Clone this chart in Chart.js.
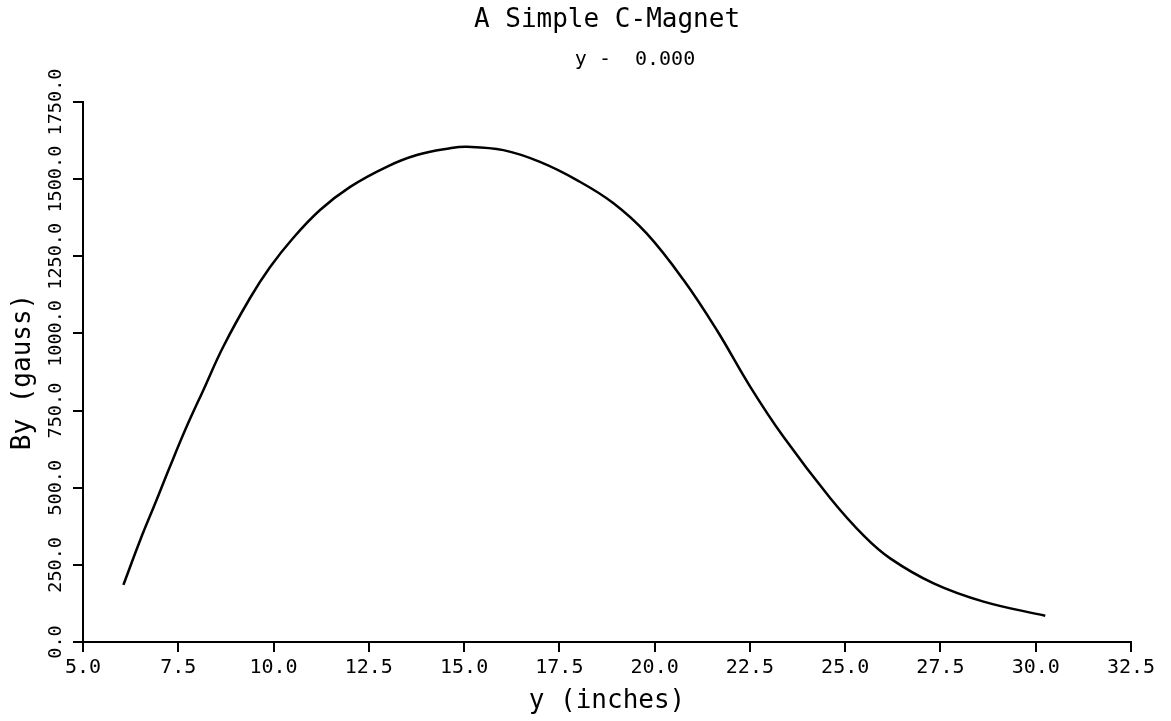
<!DOCTYPE html>
<html>
<head>
<meta charset="utf-8">
<title>A Simple C-Magnet</title>
<script src="https://cdn.jsdelivr.net/npm/chart.js@4/dist/chart.umd.min.js"></script>
<style>
  html, body { margin: 0; padding: 0; background: #fff; }
  #wrap { width: 1171px; height: 721px; position: relative; }
</style>
</head>
<body>
<div id="wrap"><canvas id="magChart"></canvas></div>
<script>
// values (y position in inches vs By in gauss)
const xInches = [6.06, 6.50, 6.93, 7.28, 7.72, 8.16, 8.68, 9.38, 9.91,
  10.52, 11.22, 12.01, 12.97, 13.76, 14.63, 15.07, 16.03, 16.99, 17.96,
  18.92, 19.79, 20.76, 21.63, 22.51, 23.38, 24.61, 25.50, 26.18,
  27.32, 28.63, 30.25];
const byGauss = [185, 330, 460, 568, 698, 817, 957, 1114, 1215,
  1310, 1400, 1475, 1540, 1578, 1600, 1605, 1594, 1556, 1497,
  1422, 1324, 1173, 1011, 827, 665, 466, 343, 271,
  190, 131, 85];

const titleText = "A Simple C-Magnet";
const subtitleText = "y -  0.000";
const xTitle = "y (inches)";
const yTitle = "By (gauss)";

const FONT = "'DejaVu Sans Mono', monospace";
const TICK_LEN = 10;
const TICK_PAD = 8;
const Y_TICK_FONT = 18.5;

// title block and rotated y tick labels, drawn like the plotter output
const plotterText = {
  id: "plotterText",
  afterDraw(chart) {
    const ctx = chart.ctx;
    const area = chart.chartArea;
    const cx = (area.left + area.right) / 2;
    ctx.save();
    ctx.fillStyle = "#000";
    ctx.textAlign = "center";
    ctx.textBaseline = "middle";
    ctx.font = `26px ${FONT}`;
    ctx.fillText(titleText, cx, 20);
    ctx.font = `20px ${FONT}`;
    ctx.fillText(subtitleText, cx + 28, 60);

    const ys = chart.scales.y;
    ctx.font = `${Y_TICK_FONT}px ${FONT}`;
    const x = ys.right - TICK_LEN - TICK_PAD - Y_TICK_FONT / 2;
    ys.ticks.forEach((t, i) => {
      const py = ys.getPixelForTick(i);
      ctx.save();
      ctx.translate(x, py);
      ctx.rotate(-Math.PI / 2);
      ctx.fillText(Number(t.value).toFixed(1), 0, 0);
      ctx.restore();
    });
    ctx.restore();
  }
};

const points = xInches.map((x, i) => ({ x, y: byGauss[i] }));

new Chart(document.getElementById("magChart").getContext("2d"), {
  type: "line",
  data: {
    datasets: [{
      data: points,
      borderColor: "#000",
      borderWidth: 2.5,
      pointRadius: 0,
      fill: false,
      tension: 0.4
    }]
  },
  options: {
    responsive: true,
    maintainAspectRatio: false,
    animation: false,
    layout: { padding: { left: 0, right: 40, top: 102, bottom: 0 } },
    plugins: {
      legend: { display: false },
      tooltip: { enabled: false },
      title: { display: false }
    },
    scales: {
      x: {
        type: "linear",
        min: 5,
        max: 32.5,
        afterFit(scale) { scale.height = 79; },
        ticks: {
          stepSize: 2.5,
          color: "#000",
          padding: 4,
          font: { family: FONT, size: 20 },
          maxRotation: 0,
          callback: (v) => Number(v).toFixed(1)
        },
        grid: { drawOnChartArea: false, drawTicks: true, tickLength: TICK_LEN, color: "#000", lineWidth: 2 },
        border: { display: true, color: "#000", width: 2 },
        title: {
          display: true,
          text: xTitle,
          color: "#000",
          font: { family: FONT, size: 26 },
          padding: { top: 0, bottom: 4 }
        }
      },
      y: {
        type: "linear",
        min: 0,
        max: 1750,
        afterFit(scale) { scale.width = 83; },
        ticks: { stepSize: 250, display: false },
        grid: { drawOnChartArea: false, drawTicks: true, tickLength: TICK_LEN, color: "#000", lineWidth: 2 },
        border: { display: true, color: "#000", width: 2 },
        title: {
          display: true,
          text: yTitle,
          color: "#000",
          font: { family: FONT, size: 26 },
          padding: { top: 8, bottom: 0 }
        }
      }
    }
  },
  plugins: [plotterText]
});
</script>
</body>
</html>
